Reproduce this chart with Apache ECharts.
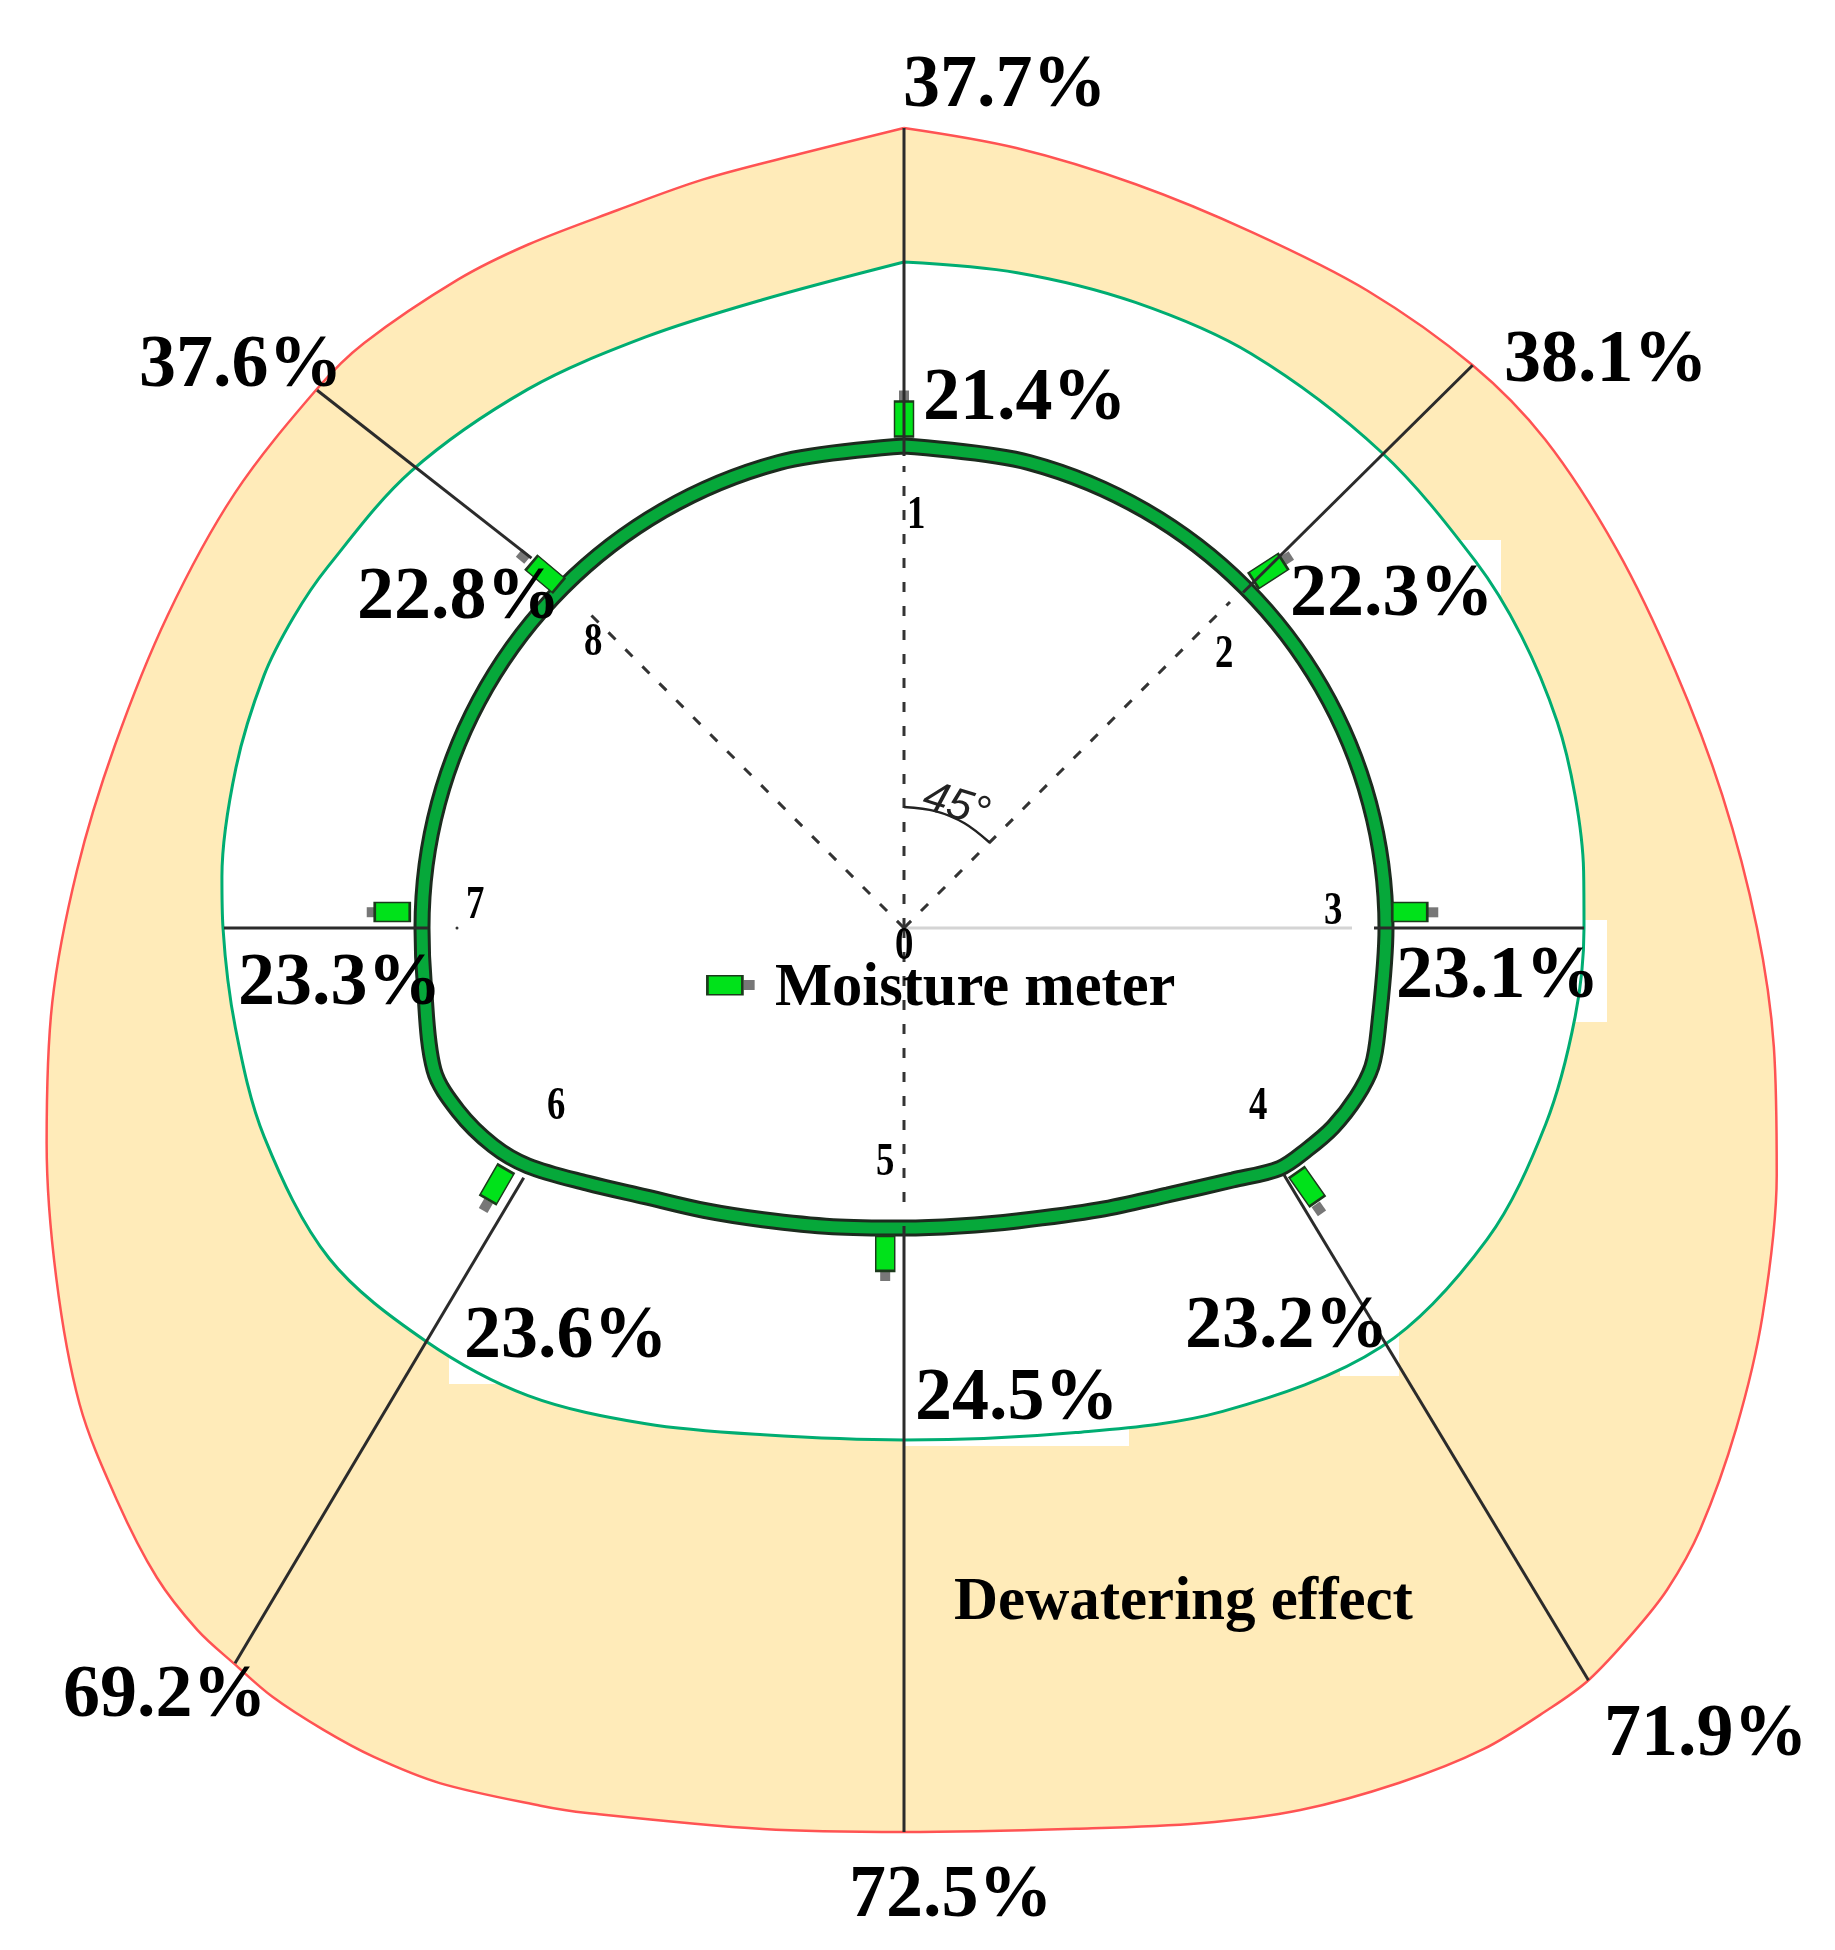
<!DOCTYPE html>
<html>
<head>
<meta charset="utf-8">
<title>Dewatering effect</title>
<style>
  html, body { margin: 0; padding: 0; background: #fff; }
  #main { width: 1835px; height: 1950px; }
</style>
<script src="https://cdn.jsdelivr.net/npm/echarts@6/dist/echarts.min.js"></script>
</head>
<body>
<div id="main"></div>
<script>
var outerAngle = [0, 8.2, 17.3, 26.6, 36, 45.3, 52.7, 62, 71.5, 80.8, 90, 97.8, 105.8, 114.3, 121, 127.1, 130.9, 134, 137.7, 140.4, 144.8, 149.9, 155.8, 161.7, 169.2, 180, 188.9, 199.7, 202.5, 208.5, 212.6, 215.9, 219.4, 222.3, 225.2, 229, 234, 240, 247.6, 255.9, 265, 274, 283, 293, 303, 312.6, 317.3, 325.5, 331.2, 338, 345, 352.3, 360];
var outerRadius = [800, 788, 779, 778, 788, 800, 806, 807, 813, 829, 853, 878, 907, 942, 971, 998, 1010, 1014, 1017, 1013, 1005, 988, 967, 943, 917, 904, 912, 940, 950, 973, 984, 990, 995, 995, 996, 990, 973, 952, 917, 884, 855, 829, 810, 800, 798, 797, 796, 787, 780, 773, 775, 781, 800];

var waterAngle = [0, 9.8, 20.3, 31.2, 45.1, 57.3, 64.7, 72.5, 78.9, 85.2, 90, 97.5, 107, 118.1, 131.3, 146.6, 161.2, 180, 195.5, 207.5, 218.8, 229.2, 240.1, 251.9, 261.5, 270, 274.3, 283.5, 291.5, 297, 302.1, 312.8, 325.1, 336.4, 347.3, 360];
var waterRadius = [666, 665, 667, 671, 674, 679, 683, 685, 684, 682, 680, 677, 671, 661, 635, 579, 533, 512, 526, 559, 600, 632, 663, 673, 676, 681, 684, 687, 688, 685, 680, 672, 657, 645, 644, 666];

var liningAngle = [0, 15, 30, 45, 60, 75, 90, 102.1, 106.5, 110.5, 114.9, 118.8, 122.6, 127.5, 135.4, 145.2, 158.9, 169.5, 180, 193.4, 205.8, 215.3, 223.9, 231.2, 237.7, 242.1, 247.7, 253.2, 263.3, 270, 285, 300, 315, 330, 345, 360];
var liningRadius = [482, 482, 482, 482, 482, 482, 482, 485, 488, 483, 473, 460, 446, 414, 375, 343, 314, 303, 300, 307, 324, 346, 373, 407, 445, 465, 482, 491, 483, 482, 482, 482, 482, 482, 482, 482];

// solid leader lines, one per measuring direction
var leaderStartAngle = [0, 45.3, 90, 123, 180, 236.7, 270, 314.8];
var leaderStartRadius = [472, 477, 470, 453, 298, 455, 476, 525];
var leaderEndAngle = [0, 45.3, 90, 137.7, 180, 222.3, 270, 312.5];
var leaderEndRadius = [800, 800, 680, 1017, 904, 994, 680, 796];

// dashed lines from the centre
var dashAngle = [0, 45, 180, 315];
var dashRadius = [462, 461, 280, 456];

var arcAngle = [0, 15, 30, 45];
var arcRadius = [121, 121, 121, 121];

// moisture meters, directions 1..8 then the legend one
var meterAngle = [0, 45.6, 88.2, 122.7, 183.3, 237.8, 271.8, 314.6, 252.3];
var meterRadius = [509, 510, 506, 479, 326, 481, 512, 504, 188];
var capAngle = [0, 46, 88.3, 124.1, 183.1, 236.4, 271.7, 314.3, 249.8];
var capRadius = [532, 532, 529, 501, 348, 502, 532, 532, 165];
var meterTilt = [90, 33, 0, -55, 90, 60, 0, -40, 0];

var pointNames = ['0', '1', '2', '3', '4', '5', '6', '7', '8'];
var dewaterRates = ['37.7%', '38.1%', '71.9%', '72.5%', '69.2%', '37.6%'];
var moistureRates = ['21.4%', '22.3%', '23.1%', '23.2%', '24.5%', '23.6%', '23.3%', '22.8%'];

function zip(radius, angle) {
  return radius.map(function (r, i) { return [r, angle[i]]; });
}

var serif = '"Liberation Serif", "Times New Roman", serif';

function label(text, x, y, size, sx) {
  return {
    type: 'text', x: x, y: y, z: 20, scaleX: sx || 1,
    style: {
      text: text, fill: '#000', align: 'left', verticalAlign: 'middle',
      fontFamily: serif, fontWeight: 'bold', fontSize: size
    }
  };
}

function patch(x, y, w, h) {
  return { type: 'rect', z: 2, shape: { x: x, y: y, width: w, height: h }, style: { fill: '#fff' } };
}

function line(data, color, width, z, extra) {
  var s = {
    type: 'line', coordinateSystem: 'polar', data: data, symbol: 'none', clip: false,
    silent: true, z: z, lineStyle: { color: color, width: width }
  };
  return Object.assign(s, extra || {});
}

var series = [
  line(zip(outerRadius, outerAngle), '#ff5353', 2.5, 1, { smooth: 0.33, areaStyle: { color: '#ffebb9', opacity: 1 } }),
  line(zip(waterRadius, waterAngle), '#00ad72', 3, 3, { smooth: 0.33, areaStyle: { color: '#fff', opacity: 1 } }),
  line(zip(liningRadius, liningAngle), '#1c2b1e', 17, 5, { smooth: 0.33 }),
  line(zip(liningRadius, liningAngle), '#06a83a', 11, 6, { smooth: 0.33 }),
  line([[0, 90], [448, 90]], '#d4d4d4', 3, 4),
  line(zip(arcRadius, arcAngle), '#222', 2.5, 7, { smooth: 0.33 })
];

dashAngle.forEach(function (a, i) {
  series.push(line([[0, a], [dashRadius[i], a]], '#333', 3, 4, {
    lineStyle: { color: '#333', width: 3, type: [10, 14] }
  }));
});

leaderStartAngle.forEach(function (a, i) {
  series.push(line([[leaderStartRadius[i], a], [leaderEndRadius[i], leaderEndAngle[i]]], '#2b2b2b', 3, 9));
});

series.push({
  type: 'scatter', coordinateSystem: 'polar', silent: true, z: 8, symbol: 'rect',
  symbolSize: [11, 10],
  data: zip(capRadius, capAngle).map(function (p, i) { return { value: p, symbolRotate: meterTilt[i] }; }),
  itemStyle: { color: '#777', opacity: 1 }
});
series.push({
  type: 'scatter', coordinateSystem: 'polar', silent: true, z: 8, symbol: 'rect',
  symbolSize: [35, 19],
  data: zip(meterRadius, meterAngle).map(function (p, i) { return { value: p, symbolRotate: meterTilt[i] }; }),
  itemStyle: { color: '#00e21a', borderColor: '#1c3a1c', borderWidth: 2, opacity: 1 }
});
// stray dot left of the centre, next to point 7
series.push({
  type: 'scatter', coordinateSystem: 'polar', silent: true, z: 8, symbolSize: 3,
  data: [[447, 270]], itemStyle: { color: '#333', opacity: 1 }
});

var big = 74;
var small = 46;
var graphics = [
  // white boxes left behind the pasted percentages
  patch(1440, 540, 61, 90),
  patch(1560, 920, 47, 102),
  patch(1340, 1330, 59, 46),
  patch(905, 1400, 224, 46),
  patch(449, 1340, 71, 44),

  label(dewaterRates[0], 903, 87, big),
  label(dewaterRates[1], 1504, 362, big),
  label(dewaterRates[2], 1604, 1736, big),
  label(dewaterRates[3], 849, 1897, big),
  label(dewaterRates[4], 63, 1697, big),
  label(dewaterRates[5], 139, 367, big),

  label(moistureRates[0], 923, 400, big),
  label(moistureRates[1], 1290, 596, big),
  label(moistureRates[2], 1396, 978, big),
  label(moistureRates[3], 1185, 1328, big),
  label(moistureRates[4], 915, 1400, big),
  label(moistureRates[5], 464, 1338, big),
  label(moistureRates[6], 238, 985, big),
  label(moistureRates[7], 357, 599, big),

  label(pointNames[0], 895, 947, small, 0.8),
  label(pointNames[1], 907, 516, small, 0.8),
  label(pointNames[2], 1215, 655, small, 0.8),
  label(pointNames[3], 1324, 912, small, 0.8),
  label(pointNames[4], 1249, 1107, small, 0.8),
  label(pointNames[5], 876, 1163, small, 0.8),
  label(pointNames[6], 547, 1107, small, 0.8),
  label(pointNames[7], 466, 906, small, 0.8),
  label(pointNames[8], 584, 643, small, 0.8),

  label('Moisture meter', 775, 989, 60.5),
  label('Dewatering effect', 954, 1603, 61),

  {
    type: 'text', x: 956, y: 806, rotation: -0.3, z: 20,
    style: {
      text: '45°', fill: '#222', align: 'center', verticalAlign: 'middle',
      fontFamily: '"Liberation Sans", sans-serif', fontStyle: 'italic', fontSize: 44
    }
  }
];

var chart = echarts.init(document.getElementById('main'), null, { width: 1835, height: 1950 });

chart.setOption({
  backgroundColor: '#ffffff',
  animation: false,
  polar: { center: [904, 928], radius: 1100 },
  angleAxis: { type: 'value', min: 0, max: 360, interval: 45, startAngle: 90, clockwise: true, show: false },
  radiusAxis: { type: 'value', min: 0, max: 1100, show: false },
  series: series,
  graphic: graphics
});
</script>
</body>
</html>
